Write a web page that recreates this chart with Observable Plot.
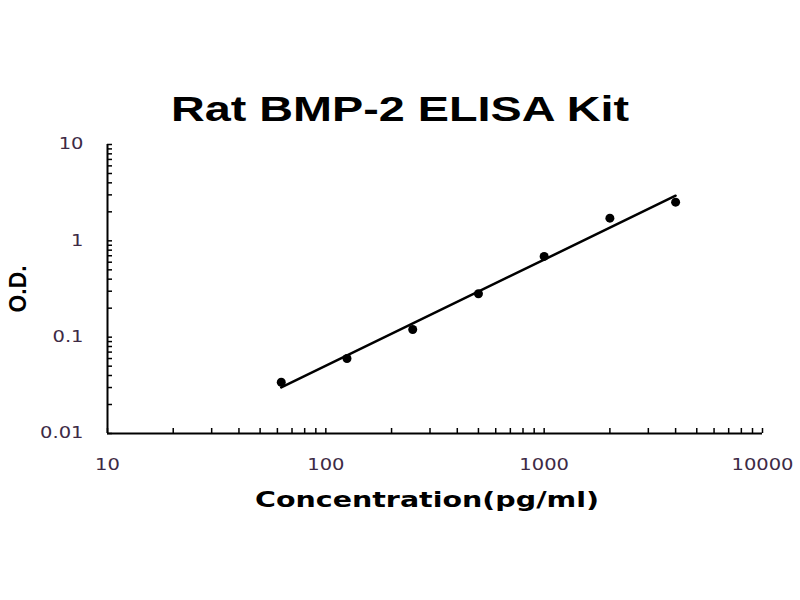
<!DOCTYPE html>
<html>
<head>
<meta charset="utf-8">
<script src="https://cdn.jsdelivr.net/npm/d3@7"></script>
<script src="https://cdn.jsdelivr.net/npm/@observablehq/plot@0.6"></script>
<style>
  html, body { margin: 0; padding: 0; background: #fff; }
</style>
</head>
<body>
<div id="chart"></div>
<script>
const title = "Rat BMP-2 ELISA Kit";
const xLabel = "Concentration(pg/ml)";
const yLabel = "O.D.";
const concentrations = [62.5, 125, 250, 500, 1000, 2000, 4000];
const odValues = [0.034, 0.060, 0.12, 0.282, 0.689, 1.72, 2.52];
const xMajorTicks = [10, 100, 1000, 10000];
const yMajorTicks = [0.01, 0.1, 1, 10];

const points = concentrations.map((c, i) => ({c, od: odValues[i]}));

// log-log linear regression (standard curve)
const lx = concentrations.map(Math.log10), ly = odValues.map(Math.log10);
const mx = d3.mean(lx), my = d3.mean(ly);
const slope = d3.sum(lx.map((v, i) => (v - mx) * (ly[i] - my))) / d3.sum(lx.map(v => (v - mx) ** 2));
const icpt = my - slope * mx;
const fit = [d3.min(concentrations), d3.max(concentrations)].map(c => ({c, od: 10 ** (icpt + slope * Math.log10(c))}));

const minorOf = majors => {
  const out = [];
  for (let i = 0; i < majors.length - 1; i++) for (let k = 1; k < 10; k++) out.push(majors[i] * k);
  out.push(majors[majors.length - 1]);
  return out;
};
const xAllTicks = minorOf(xMajorTicks);
const yAllTicks = minorOf(yMajorTicks);

const chart = Plot.plot({
  width: 800,
  height: 600,
  marginLeft: 107,
  marginRight: 38,
  marginTop: 144,
  marginBottom: 167,
  style: {background: "#fff", fontFamily: "DejaVu Sans", color: "#000"},
  x: {type: "log", domain: [10, 10000], axis: null},
  y: {type: "log", domain: [0.01, 10], axis: null},
  marks: [
    Plot.axisX({ticks: xAllTicks, tickSize: 5, dy: -5, tickFormat: () => "", label: null, strokeWidth: 1.5}),
    Plot.axisY({ticks: yAllTicks, tickSize: 5, dx: 5, tickFormat: () => "", label: null, strokeWidth: 1.5}),
    Plot.axisX({ticks: xMajorTicks, tickSize: 0, tickPadding: 26, fontSize: 15, fill: "#3d2a45", label: null, tickFormat: d3.format("d"), className: "tlx"}),
    Plot.axisY({ticks: yMajorTicks, tickSize: 0, tickPadding: 24, fontSize: 15, fill: "#3d2a45", label: null, tickFormat: d => String(d), className: "tly"}),
    Plot.ruleY([0.01], {stroke: "#000", strokeWidth: 2}),
    Plot.ruleX([10], {stroke: "#000", strokeWidth: 2}),
    Plot.line(fit, {x: "c", y: "od", stroke: "#000", strokeWidth: 2.5}),
    Plot.dot(points, {x: "c", y: "od", r: 4.5, fill: "#000", stroke: "none"}),
    Plot.text([title], {frameAnchor: "top", dx: -35, dy: -48, text: d => d, fontSize: 35, fontWeight: "bold", fontFamily: "Liberation Sans", fill: "#000", className: "ttl"}),
    Plot.text([xLabel], {frameAnchor: "bottom", dx: -8, dy: 73, text: d => d, fontSize: 21, fontWeight: "bold", fontFamily: "DejaVu Sans", fill: "#000", className: "xlab"}),
    Plot.text([yLabel], {frameAnchor: "left", textAnchor: "middle", dx: -89, rotate: -90, text: d => d, fontSize: 24, fontWeight: "bold", fontFamily: "Liberation Sans", fill: "#000", className: "ylab"})
  ]
});
document.getElementById("chart").appendChild(chart);
const stretch = (cls, len) => d3.select(chart).selectAll(`.${cls} text`).attr("textLength", len).attr("lengthAdjust", "spacingAndGlyphs");
stretch("ttl", 458);
stretch("xlab", 344);
stretch("ylab", 47);
// widen tick labels to match the reference's wide digits
d3.select(chart).selectAll(".tlx text, .tly text").each(function() {
  const L = this.getComputedTextLength();
  d3.select(this).attr("textLength", L * 1.3).attr("lengthAdjust", "spacingAndGlyphs");
});
</script>
</body>
</html>
